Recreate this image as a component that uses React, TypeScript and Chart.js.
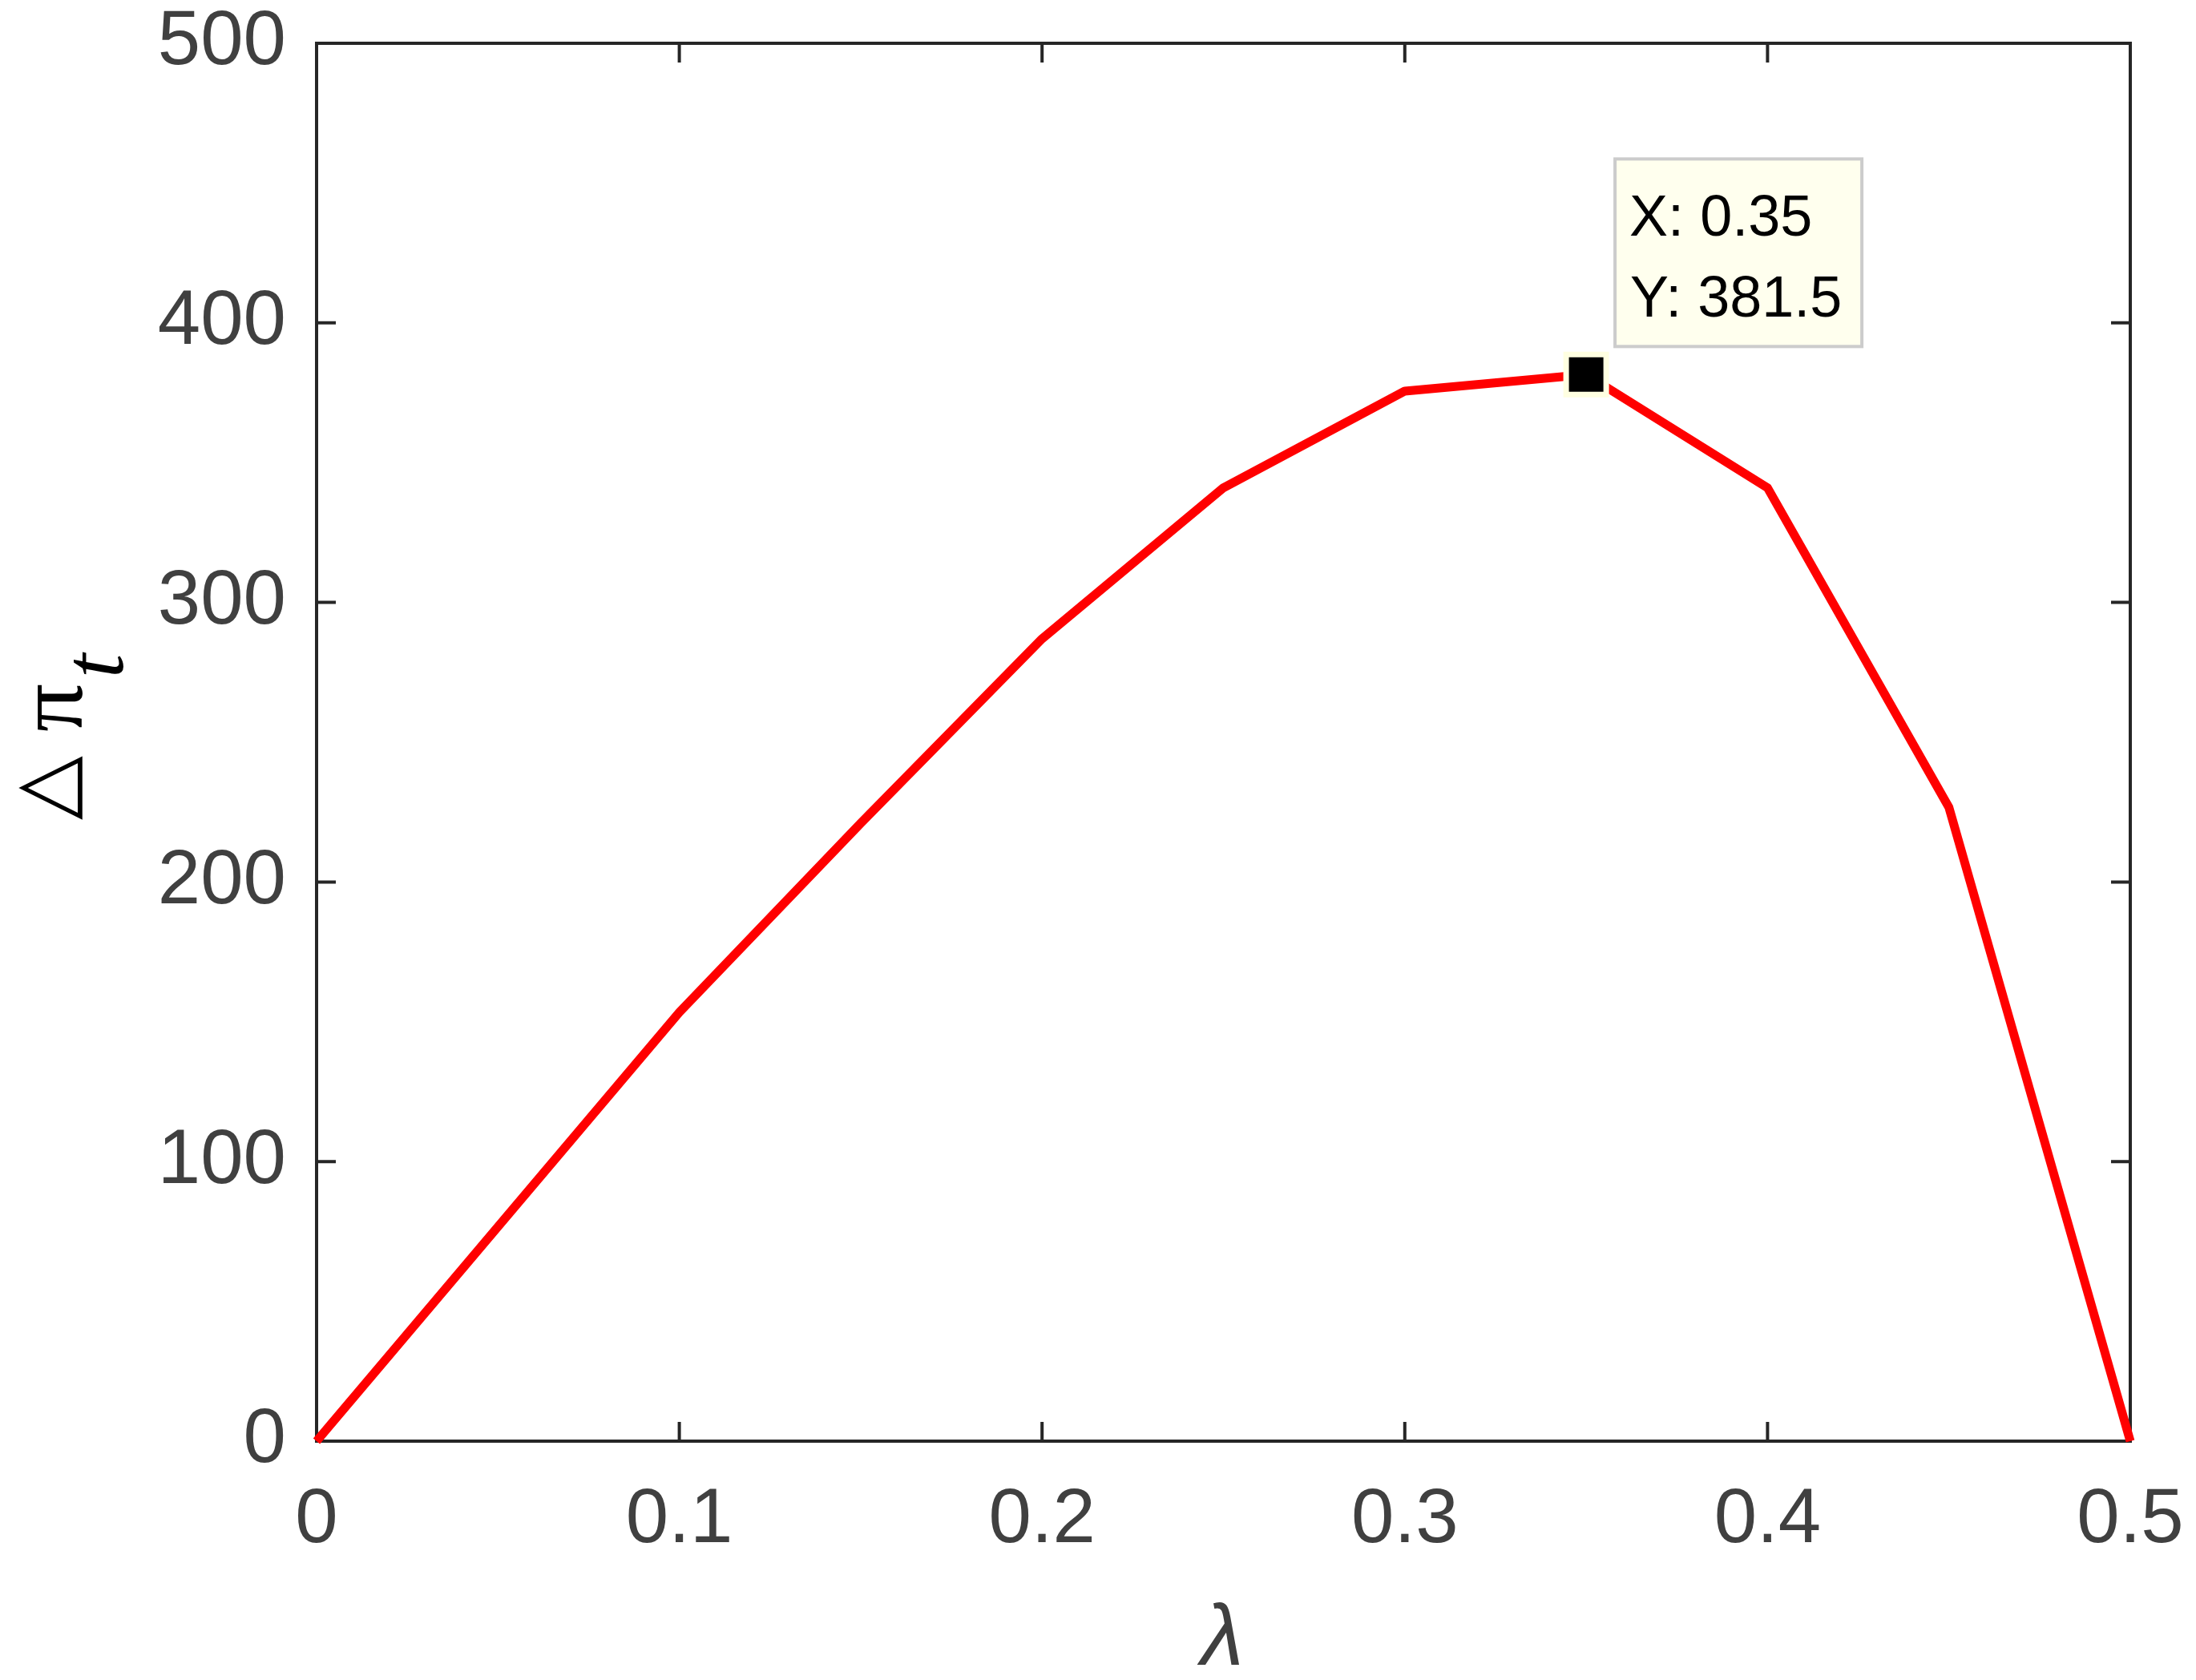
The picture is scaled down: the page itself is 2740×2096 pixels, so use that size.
import React, { useEffect, useRef } from 'react';
import { Chart, registerables } from 'chart.js';

Chart.register(...registerables);

// ---- data ----
const lambdaValues = [0, 0.05, 0.1, 0.15, 0.2, 0.25, 0.3, 0.35, 0.4, 0.45, 0.5];
const profitGain = [0, 76.7, 153.4, 221, 287, 341, 375.6, 381.5, 341, 226.7, 0];
const xTicks = [0, 0.1, 0.2, 0.3, 0.4, 0.5];
const yTicks = [0, 100, 200, 300, 400, 500];
const tipLambda = [0.35];
const tipValue = [381.5];
const xAxisTitle = 'λ';
const yAxisSymbol = '△';
const yAxisVar = 'π';
const yAxisSub = 't';

const W = 2740;
const H = 2096;
const AXIS_COLOR = '#262626';
const TEXT_COLOR = '#404040';
const TICK_LEN = 24;

const fmt = (v: number) => String(Number(v.toFixed(3)));

// draw a glyph rotated -90deg so that its ink's right edge is at screen x = R
// and its ink's lower edge (text start) is at screen y = B, scaled to inkHeight
function drawRotatedInk(ctx: CanvasRenderingContext2D, text: string, fontPrefix: string, family: string, inkHeight: number, R: number, B: number) {
  ctx.font = `${fontPrefix}100px ${family}`;
  let m = ctx.measureText(text);
  const h = m.actualBoundingBoxAscent + m.actualBoundingBoxDescent || 70;
  const size = (100 * inkHeight) / h;
  ctx.font = `${fontPrefix}${size}px ${family}`;
  m = ctx.measureText(text);
  ctx.save();
  ctx.translate(R, B);
  ctx.rotate(-Math.PI / 2);
  ctx.textAlign = 'left';
  ctx.textBaseline = 'alphabetic';
  ctx.fillText(text, m.actualBoundingBoxLeft, -m.actualBoundingBoxDescent);
  ctx.restore();
}

const zeroPad = (s: any) => {
  s.paddingTop = 0;
  s.paddingBottom = 0;
  s.paddingLeft = 0;
  s.paddingRight = 0;
};

const matlabPlugin = {
  id: 'matlabDecor',
  beforeDatasetsDraw(chart: any) {
    const { ctx, chartArea: a, scales } = chart;
    ctx.save();
    ctx.strokeStyle = AXIS_COLOR;
    ctx.lineWidth = 4;
    ctx.beginPath();
    for (const v of xTicks) {
      const x = scales.x.getPixelForValue(v);
      ctx.moveTo(x, a.bottom);
      ctx.lineTo(x, a.bottom - TICK_LEN);
      ctx.moveTo(x, a.top);
      ctx.lineTo(x, a.top + TICK_LEN);
    }
    for (const v of yTicks) {
      const y = scales.y.getPixelForValue(v);
      ctx.moveTo(a.left, y);
      ctx.lineTo(a.left + TICK_LEN, y);
      ctx.moveTo(a.right, y);
      ctx.lineTo(a.right - TICK_LEN, y);
    }
    ctx.stroke();
    ctx.strokeRect(a.left, a.top, a.right - a.left, a.bottom - a.top);
    ctx.restore();
  },
  afterDatasetsDraw(chart: any) {
    const { ctx, chartArea: a, scales } = chart;
    ctx.save();

    // data tip box
    const px = scales.x.getPixelForValue(tipLambda[0]);
    const py = scales.y.getPixelForValue(tipValue[0]);
    const bx = px + 36;
    const by = py - 269;
    const bw = 308;
    const bh = 234;
    ctx.fillStyle = 'rgb(255,255,238)';
    ctx.fillRect(bx, by, bw, bh);
    ctx.strokeStyle = '#cccccc';
    ctx.lineWidth = 4;
    ctx.strokeRect(bx, by, bw, bh);
    ctx.fillStyle = '#000000';
    ctx.font = '72px "Liberation Sans", Arial, sans-serif';
    ctx.textAlign = 'left';
    ctx.textBaseline = 'alphabetic';
    ctx.fillText('X: ' + fmt(tipLambda[0]), px + 54, py - 173);
    ctx.fillText('Y: ' + fmt(tipValue[0]), px + 55, py - 72);

    // x axis title (italic lambda)
    ctx.fillStyle = TEXT_COLOR;
    const lamFamily = '"Liberation Sans", Arial, sans-serif';
    ctx.font = `italic 100px ${lamFamily}`;
    let m = ctx.measureText(xAxisTitle);
    const lh = m.actualBoundingBoxAscent + m.actualBoundingBoxDescent || 73;
    const lamSize = (100 * 79) / lh;
    ctx.font = `italic ${lamSize}px ${lamFamily}`;
    m = ctx.measureText(xAxisTitle);
    const cx = (a.left + a.right) / 2;
    ctx.textAlign = 'left';
    ctx.fillText(xAxisTitle, cx - 33 + m.actualBoundingBoxLeft, a.bottom + 280 - m.actualBoundingBoxDescent);

    // y axis title  (△ π_t), rotated
    const yc = (a.top + a.bottom) / 2;
    ctx.fillStyle = '#000000';
    drawRotatedInk(ctx, yAxisSymbol, '', '"DejaVu Sans", sans-serif', 81, a.left - 292, yc + 97);
    drawRotatedInk(ctx, yAxisVar, '', '"Liberation Serif", "Times New Roman", serif', 56, a.left - 292, yc - 14);
    drawRotatedInk(ctx, yAxisSub, 'italic ', '"Liberation Serif", "Times New Roman", serif', 62, a.left - 241, yc - 84);
    ctx.restore();
  },
};

export default function App() {
  const ref = useRef<HTMLCanvasElement | null>(null);

  useEffect(() => {
    document.body.style.margin = '0';
    const canvas = ref.current;
    if (!canvas) return;
    const chart = new Chart(canvas, {
      type: 'line',
      data: {
        datasets: [
          {
            label: 'tip',
            data: tipLambda.map((x, i) => ({ x, y: tipValue[i] })),
            showLine: false,
            pointStyle: 'rect',
            pointRadius: 35.36,
            pointBorderWidth: 7,
            pointBorderColor: 'rgb(255,255,225)',
            pointBackgroundColor: '#000000',
            clip: false as any,
            order: 0,
          },
          {
            label: 'ΔΠt',
            data: lambdaValues.map((x, i) => ({ x, y: profitGain[i] })),
            borderColor: 'rgb(255,0,0)',
            borderWidth: 11,
            pointRadius: 0,
            tension: 0,
            borderJoinStyle: 'round',
            borderCapStyle: 'butt',
            clip: false as any,
            order: 1,
          },
        ],
      },
      options: {
        responsive: false,
        animation: false,
        devicePixelRatio: 1,
        layout: { autoPadding: false, padding: { top: 54, right: 82, left: 0, bottom: 0 } },
        plugins: {
          legend: { display: false },
          tooltip: { enabled: false },
          title: { display: false },
        },
        scales: {
          x: {
            type: 'linear',
            min: 0,
            max: 0.5,
            grid: { display: false, drawTicks: false },
            border: { display: false },
            afterBuildTicks: (s: any) => {
              s.ticks = xTicks.map((v) => ({ value: v }));
            },
            afterFit: (s: any) => {
              s.height = H - 1798;
              zeroPad(s);
            },
            ticks: {
              autoSkip: false,
              maxRotation: 0,
              padding: 52,
              color: TEXT_COLOR,
              font: { family: '"Liberation Sans", Arial, sans-serif', size: 96, lineHeight: 1 },
              callback: (v: any) => fmt(Number(v)),
            },
          },
          y: {
            type: 'linear',
            min: 0,
            max: 500,
            grid: { display: false, drawTicks: false },
            border: { display: false },
            afterBuildTicks: (s: any) => {
              s.ticks = yTicks.map((v) => ({ value: v }));
            },
            afterFit: (s: any) => {
              s.width = 395;
              zeroPad(s);
            },
            ticks: {
              autoSkip: false,
              padding: 38,
              color: TEXT_COLOR,
              font: { family: '"Liberation Sans", Arial, sans-serif', size: 96, lineHeight: 1 },
              callback: (v: any) => fmt(Number(v)),
            },
          },
        },
      },
      plugins: [matlabPlugin],
    });
    return () => chart.destroy();
  }, []);

  return (
    <div style={{ position: 'absolute', left: 0, top: 0, width: W, height: H, background: '#ffffff' }}>
      <canvas ref={ref} width={W} height={H} style={{ display: 'block', width: W, height: H }} />
    </div>
  );
}
